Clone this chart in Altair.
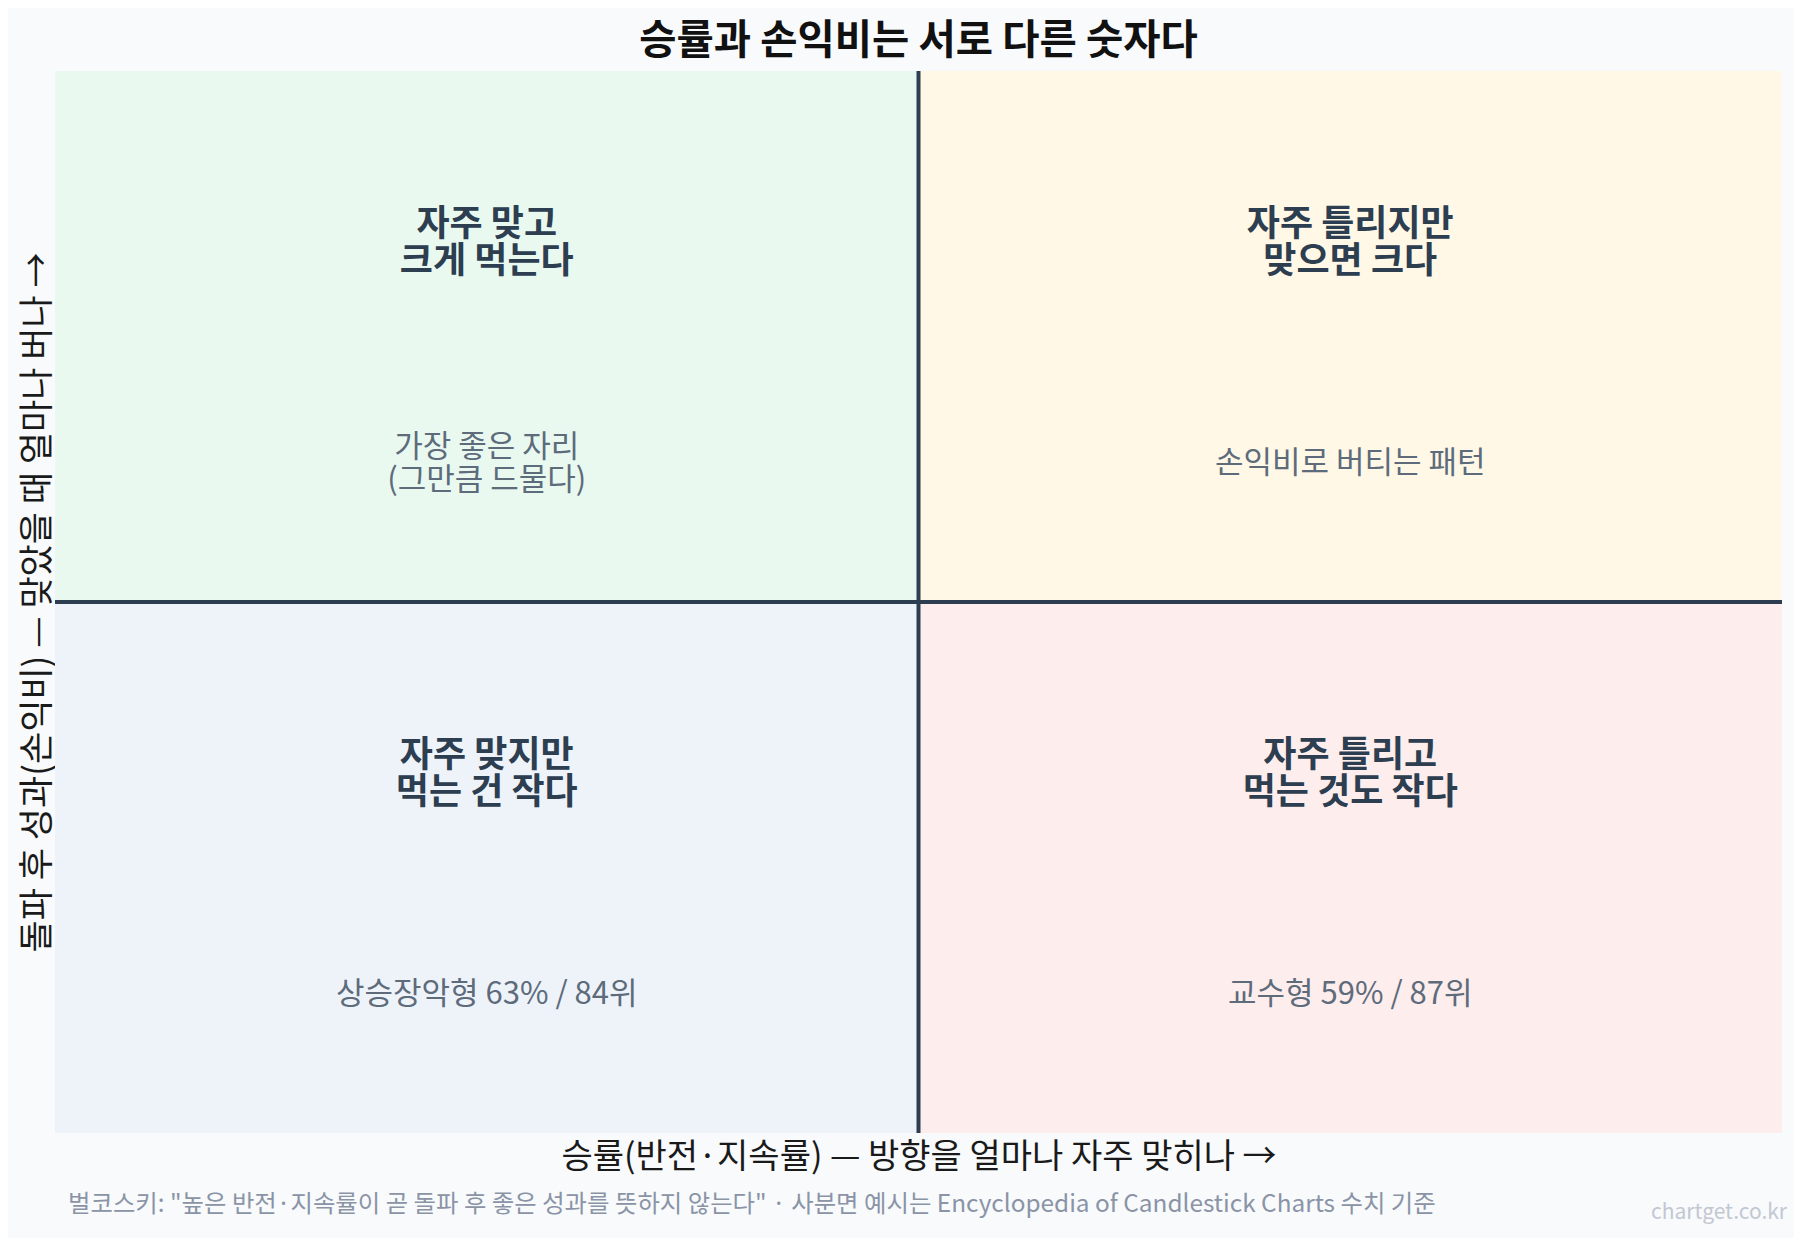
import altair as alt
import pandas as pd

FONT = "Noto Sans CJK KR"

# ---- data ----
quad_names = ["TL", "TR", "BL", "BR"]
quad_x0 = [0.0, 0.5, 0.0, 0.5]
quad_x1 = [0.5, 1.0, 0.5, 1.0]
quad_y0 = [0.5, 0.5, 0.0, 0.0]
quad_y1 = [1.0, 1.0, 0.5, 0.5]
quad_titles = ["자주 맞고\n크게 먹는다", "자주 틀리지만\n맞으면 크다",
               "자주 맞지만\n먹는 건 작다", "자주 틀리고\n먹는 것도 작다"]
quad_notes = ["가장 좋은 자리\n(그만큼 드물다)", "손익비로 버티는 패턴",
              "상승장악형 63% / 84위", "교수형 59% / 87위"]
divider_x = [0.5]
divider_y = [0.5]

chart_title = "승률과 손익비는 서로 다른 숫자다"
x_title = "승률(반전·지속률) — 방향을 얼마나 자주 맞히나  →"
y_title = "돌파 후 성과(손익비) — 맞았을 때 얼마나 버나  →"
footnote = ['벌코스키: "높은 반전·지속률이 곧 돌파 후 좋은 성과를 뜻하지 않는다" · 사분면 예시는 Encyclopedia of Candlestick Charts 수치 기준']
watermark = ["chartget.co.kr"]

quad_colors = ["#e9f9f0", "#fff8e7", "#eef3fa", "#fdeded"]

quads = pd.DataFrame({"name": quad_names, "x0": quad_x0, "x1": quad_x1,
                      "y0": quad_y0, "y1": quad_y1,
                      "title": quad_titles, "note": quad_notes})

W, H = 1727, 1062
TITLE_LH = 37
NOTE_LH = 33

xs = alt.Scale(domain=[0, 1], nice=False, zero=False, padding=0)
ys = alt.Scale(domain=[0, 1], nice=False, zero=False, padding=0)

xaxis = alt.Axis(labels=False, ticks=False, domain=False, grid=False,
                 title=x_title, titleFont=FONT, titleFontSize=34,
                 titleFontWeight="normal", titleColor="#1a1a1a", titlePadding=7)
yaxis = alt.Axis(labels=False, ticks=False, domain=False, grid=False,
                 title=y_title, titleFont=FONT, titleFontSize=35,
                 titleFontWeight="normal", titleColor="#1a1a1a", titlePadding=0)

rects = alt.Chart(quads).mark_rect(stroke=None).encode(
    x=alt.X("x0:Q", scale=xs, axis=xaxis),
    x2="x1:Q",
    y=alt.Y("y0:Q", scale=ys, axis=yaxis),
    y2="y1:Q",
    color=alt.Color("name:N", scale=alt.Scale(domain=quad_names, range=quad_colors), legend=None),
)

vrule = alt.Chart(pd.DataFrame({"x": divider_x})).mark_rule(
    color="#2c3e50", strokeWidth=4).encode(x=alt.X("x:Q", scale=xs))
hrule = alt.Chart(pd.DataFrame({"y": divider_y})).mark_rule(
    color="#2c3e50", strokeWidth=4).encode(y=alt.Y("y:Q", scale=ys))

# first line of a multi-line block is placed at y; shift so the block is centred
base_txt = alt.Chart(quads).transform_calculate(
    cx="(datum.x0 + datum.x1) / 2",
    cy="(datum.y0 + datum.y1) / 2",
    tn="split(datum.title, '\\n').length",
    nn="split(datum.note, '\\n').length",
).transform_calculate(
    ty=f"datum.cy + 0.0875 + (datum.tn - 1) * {TITLE_LH / H / 2}",
    ny=f"datum.cy - 0.1205 + (datum.nn - 1) * {NOTE_LH / H / 2}",
)

titles = base_txt.mark_text(
    font=FONT, fontSize=36, fontWeight="bold", color="#2c3e50",
    align="center", baseline="middle", lineBreak="\n", lineHeight=TITLE_LH,
).encode(x=alt.X("cx:Q", scale=xs), y=alt.Y("ty:Q", scale=ys), text="title:N")

notes = base_txt.mark_text(
    font=FONT, fontSize=31, color="#5d6b7b",
    align="center", baseline="middle", lineBreak="\n", lineHeight=NOTE_LH,
).encode(x=alt.X("cx:Q", scale=xs), y=alt.Y("ny:Q", scale=ys), text="note:N")

foot = alt.Chart(pd.DataFrame({"t": footnote})).mark_text(
    font=FONT, fontSize=24.4, color="#8a94a6", align="left", baseline="middle",
).encode(x=alt.value(13), y=alt.value(1134), text="t:N")

wm = alt.Chart(pd.DataFrame({"t": watermark})).mark_text(
    font=FONT, fontSize=21, color="#c2c8d2", align="right", baseline="middle",
).encode(x=alt.value(1732), y=alt.value(1142), text="t:N")

chart = alt.layer(rects, vrule, hrule, titles, notes, foot, wm).properties(
    width=W, height=H,
    title=alt.TitleParams(chart_title, font=FONT, fontSize=40.5, fontWeight="bold",
                          color="#111111", anchor="middle", offset=7),
    background="#f8fafc",
    padding={"left": 47, "top": 63, "right": 12, "bottom": 105},
    autosize=alt.AutoSizeParams(type="none"),
).configure_view(stroke=None)

chart.save("out.html", embed_options={"renderer": "svg", "actions": False})
